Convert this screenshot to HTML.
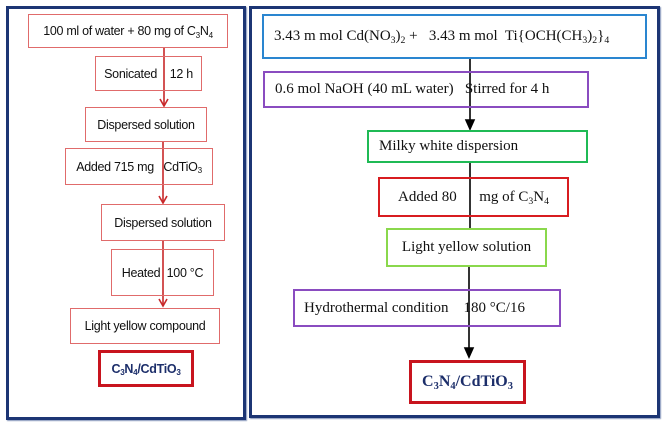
<!DOCTYPE html>
<html><head><meta charset="utf-8"><style>
body{margin:0;width:665px;height:426px;background:#fff;position:relative;overflow:hidden}
.p{position:absolute;border:3px solid #1c3574;box-sizing:border-box;box-shadow:1px 1px 1px #8898bb}
.b{position:absolute;box-sizing:border-box;background:#fff;display:flex;align-items:center;white-space:pre}
.l{font-family:"Liberation Sans",sans-serif;font-size:12.5px;color:#111;letter-spacing:-0.3px;border:1.5px solid #e06b6b}
.r{font-family:"Liberation Serif",serif;font-size:15px;color:#111;border:2px solid}
.s{font-size:65%;position:relative;top:4px}
</style></head><body>
<div class="p" style="left:6px;top:6px;width:240px;height:414px"></div>
<div class="p" style="left:249px;top:6px;width:411px;height:412px"></div>

<svg style="position:absolute;left:0;top:0" width="665" height="426">
<g stroke="#c8282a" stroke-width="1.6" fill="none">
<line x1="164" y1="48" x2="164" y2="106"/><polyline points="160,99 164,106 168,99"/>
<line x1="163" y1="142" x2="163" y2="203"/><polyline points="159,196 163,203 167,196"/>
<line x1="163" y1="241" x2="163" y2="306"/><polyline points="159,299 163,306 167,299"/>
</g>
<g stroke="#000" stroke-width="1.6" fill="#000">
<line x1="470" y1="59" x2="470" y2="122"/><polygon points="466,120 474,120 470,129"/>
<line x1="470" y1="163" x2="470" y2="228"/>
<line x1="469" y1="267" x2="469" y2="350"/><polygon points="465,348 473,348 469,357"/>
</g>
</svg>

<div class="b l" style="left:28px;top:14px;width:200px;height:34px;justify-content:center">100 ml of water + 80 mg of C<span class="s">3</span>N<span class="s">4</span></div>
<div class="b l" style="left:95px;top:56px;width:107px;height:35px;justify-content:center;background:transparent">Sonicated    12 h</div>
<div class="b l" style="left:85px;top:107px;width:122px;height:35px;justify-content:center">Dispersed solution</div>
<div class="b l" style="left:65px;top:148px;width:148px;height:37px;justify-content:center;background:transparent">Added 715 mg   CdTiO<span class="s">3</span></div>
<div class="b l" style="left:101px;top:204px;width:124px;height:37px;justify-content:center">Dispersed solution</div>
<div class="b l" style="left:111px;top:249px;width:103px;height:47px;justify-content:center;background:transparent">Heated  100 °C</div>
<div class="b l" style="left:70px;top:308px;width:150px;height:36px;justify-content:center">Light yellow compound</div>
<div class="b l" style="left:98px;top:350px;width:96px;height:37px;justify-content:center;border:3px solid #c8141e;font-weight:bold;color:#1c2e6a">C<span class="s">3</span>N<span class="s">4</span>/CdTiO<span class="s">3</span></div>

<div class="b r" style="left:262px;top:14px;width:385px;height:45px;border-color:#2a86d0;padding-left:10px">3.43 m mol Cd(NO<span class="s">3</span>)<span class="s">2</span> +   3.43 m mol  Ti{OCH(CH<span class="s">3</span>)<span class="s">2</span>}<span class="s">4</span></div>
<div class="b r" style="left:263px;top:71px;width:326px;height:37px;border-color:#8a4cc0;padding-left:10px;background:transparent">0.6 mol NaOH (40 mL water)   Stirred for 4 h</div>
<div class="b r" style="left:367px;top:130px;width:221px;height:33px;border-color:#1fba55;padding-left:10px">Milky white dispersion</div>
<div class="b r" style="left:378px;top:177px;width:191px;height:40px;border-color:#d81c20;padding-left:18px;background:transparent">Added 80      mg of C<span class="s">3</span>N<span class="s">4</span></div>
<div class="b r" style="left:386px;top:228px;width:161px;height:39px;border-color:#8ad84c;justify-content:center">Light yellow solution</div>
<div class="b r" style="left:293px;top:289px;width:268px;height:38px;border-color:#8a4cc0;padding-left:9px;background:transparent">Hydrothermal condition    180 °C/16</div>
<div class="b r" style="left:409px;top:360px;width:117px;height:44px;border:3px solid #c8141e;justify-content:center;font-weight:bold;color:#1c2e6a;font-size:16px">C<span class="s">3</span>N<span class="s">4</span>/CdTiO<span class="s">3</span></div>
</body></html>
